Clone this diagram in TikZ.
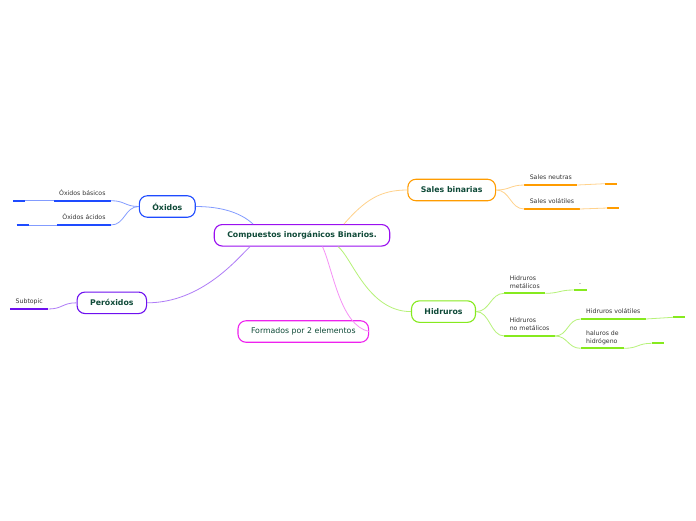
\documentclass[tikz,border=0pt]{standalone}
\usepackage{fontspec}
\setmainfont{DejaVu Sans}
\usetikzlibrary{positioning}
\definecolor{mainBorder}{HTML}{9A10F0}
\definecolor{titleText}{HTML}{0F4A38}
\definecolor{subText}{HTML}{333333}
\definecolor{oxiBorder}{HTML}{1E4BFF}
\definecolor{salBorder}{HTML}{FF9C00}
\definecolor{hidBorder}{HTML}{86EA1E}
\definecolor{perBorder}{HTML}{6E10F0}
\definecolor{forBorder}{HTML}{EE22EE}

\begin{document}
\begin{tikzpicture}[
  x=1pt, y=-1pt,
  topic/.style={rectangle, rounded corners=8pt, draw, fill=white, line width=1.1pt, minimum height=21.5pt, inner xsep=13pt, inner ysep=0pt, font=\fontsize{7.8}{9}\selectfont\bfseries, text=titleText},
  sub/.style={inner xsep=5.3pt, inner ysep=3.4pt, text depth=1.6pt, align=left, font=\fontsize{6.2}{8}\selectfont, text=subText, append after command={(\tikzlastnode.south west) edge[draw=#1, line width=1.7pt] (\tikzlastnode.south east)}},
  stub/.style={sub=#1, minimum width=11.6pt},
  link/.style={draw=#1, line width=0.8pt}
]
  \fill[white] (0,0) rectangle (696,520);

  % Topics
  \node (central) [topic, draw=mainBorder] at (302,235.3) {Compuestos inorgánicos Binarios.};
  \node (oxi) [topic, draw=oxiBorder] at (167.3,206.5) {Óxidos};
  \node (sal) [topic, draw=salBorder] at (451.7,190) {Sales binarias};
  \node (hid) [topic, draw=hidBorder] at (443.5,311.6) {Hidruros};
  \node (per) [topic, draw=perBorder] at (111.8,302.8) {Peróxidos};
  \node (form) [topic, draw=forBorder, font=\fontsize{7.8}{9}\selectfont] at (303.3,331.5) {Formados por 2 elementos};

  % Subtopics
  \node (oxiBas) [sub=oxiBorder, anchor=south east] at (111,200.7) {Óxidos básicos};
  \node (oxiAci) [sub=oxiBorder, anchor=south east] at (111,225) {Óxidos ácidos};
  \node (oxiBasX) [stub=oxiBorder, left=28.5pt of oxiBas.south west, anchor=south east] {};
  \node (oxiAciX) [stub=oxiBorder, left=28.4pt of oxiAci.south west, anchor=south east] {};

  \node (salNeu) [sub=salBorder, anchor=south west] at (524.3,185) {Sales neutras};
  \node (salVol) [sub=salBorder, anchor=south west] at (524.3,209) {Sales volátiles};
  \node (salNeuX) [stub=salBorder, right=27.3pt of salNeu.south east, anchor=south west, yshift=1.3pt] {};
  \node (salVolX) [stub=salBorder, right=27.7pt of salVol.south east, anchor=south west, yshift=1pt] {};

  \node (hidMet) [sub=hidBorder, anchor=south west] at (504.3,293.3) {Hidruros\\metálicos};
  \node (hidNoMet) [sub=hidBorder, anchor=south west] at (504.3,336) {Hidruros\\no metálicos};
  \node (hidDot) [sub=hidBorder, right=28.3pt of hidMet.south east, anchor=south west, yshift=3.3pt] {.};
  \node (hidVol) [sub=hidBorder, anchor=south west] at (580.7,319) {Hidruros volátiles};
  \node (hidHal) [sub=hidBorder, anchor=south west] at (580.7,348.3) {haluros de\\hidrógeno};
  \node (hidVolX) [stub=hidBorder, right=27.3pt of hidVol.south east, anchor=south west, yshift=1.7pt] {};
  \node (hidHalX) [stub=hidBorder, right=27.4pt of hidHal.south east, anchor=south west, yshift=5pt] {};

  \node (perSub) [sub=perBorder, anchor=south east] at (48.3,309) {Subtopic};

  % Connectors
  \draw [link=oxiBorder!55] ([xshift=-49pt]central.north) .. controls +(-13,-12) and +(24,0) .. (oxi.east);
  \draw [link=salBorder!45] ([xshift=42pt]central.north) .. controls +(21,-24) and +(-27,0) .. (sal.west);
  \draw [link=perBorder!55] ([xshift=-52pt]central.south) .. controls +(-12,11.3) and +(55,0) .. (per.east);
  \draw [link=hidBorder!60] ([xshift=36pt]central.south) .. controls +(14,11) and +(-43,0) .. (hid.west);
  \draw [link=forBorder!50] ([xshift=20.5pt]central.south) .. controls +(10.5,23) and +(-29,-6) .. (form.east);

  \draw [link=oxiBorder!55] (oxi.west) .. controls +(-14,0) and +(14,0) .. (oxiBas.south east);
  \draw [link=oxiBorder!55] (oxi.west) .. controls +(-14,0) and +(14,0) .. (oxiAci.south east);
  \draw [link=oxiBorder!55] (oxiBas.south west) -- (oxiBasX.south east);
  \draw [link=oxiBorder!55] (oxiAci.south west) -- (oxiAciX.south east);

  \draw [link=salBorder!45] (sal.east) .. controls +(14,0) and +(-14,0) .. (salNeu.south west);
  \draw [link=salBorder!45] (sal.east) .. controls +(14,0) and +(-14,0) .. (salVol.south west);
  \draw [link=salBorder!45] (salNeu.south east) .. controls +(14,0) and +(-14,0) .. (salNeuX.south west);
  \draw [link=salBorder!45] (salVol.south east) .. controls +(14,0) and +(-14,0) .. (salVolX.south west);

  \draw [link=hidBorder!60] (hid.east) .. controls +(14,0) and +(-14,0) .. (hidMet.south west);
  \draw [link=hidBorder!60] (hid.east) .. controls +(14,0) and +(-14,0) .. (hidNoMet.south west);
  \draw [link=hidBorder!60] (hidMet.south east) .. controls +(14,0) and +(-14,0) .. (hidDot.south west);
  \draw [link=hidBorder!60] (hidNoMet.south east) .. controls +(13,0) and +(-13,0) .. (hidVol.south west);
  \draw [link=hidBorder!60] (hidNoMet.south east) .. controls +(13,0) and +(-13,0) .. (hidHal.south west);
  \draw [link=hidBorder!60] (hidVol.south east) .. controls +(14,0) and +(-14,0) .. (hidVolX.south west);
  \draw [link=hidBorder!60] (hidHal.south east) .. controls +(14,0) and +(-14,0) .. (hidHalX.south west);

  \draw [link=perBorder!55] (per.west) .. controls +(-14,0) and +(14,0) .. (perSub.south east);
\end{tikzpicture}
\end{document}
